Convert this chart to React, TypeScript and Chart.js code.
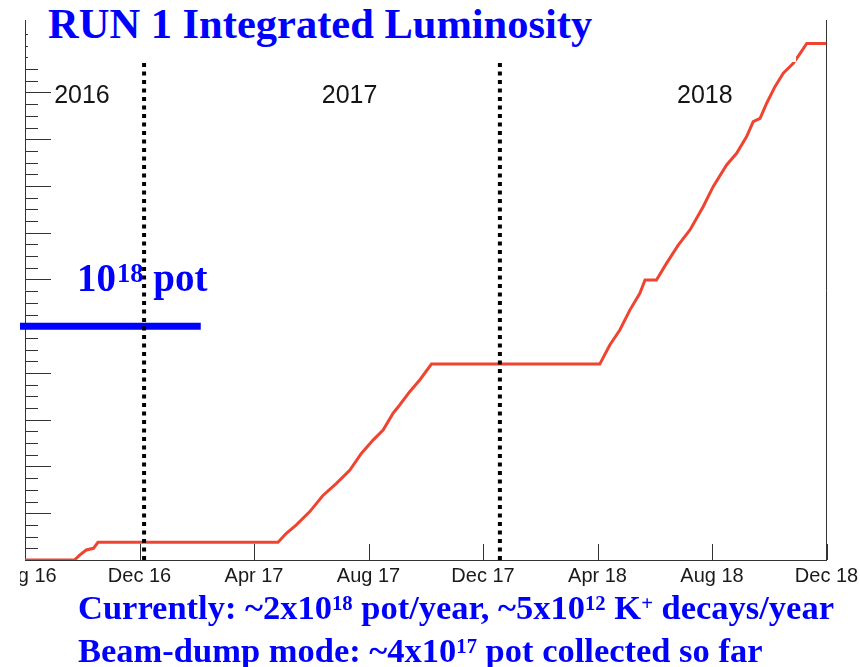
import React, { useEffect, useRef } from "react";
import Chart from "chart.js/auto";

// ---- data (x: months since 1 Aug 2016, y: integrated protons on target in units of 1e17) ----
const monthsSinceAug16 = [0, 1.73, 1.91, 2.14, 2.39, 2.55, 8.84, 9.13, 9.48, 9.95, 10.4, 10.88, 11.35, 11.75, 12.16, 12.51, 12.86, 13.09, 13.44, 13.79, 14.2, 20.08, 20.43, 20.78, 21.13, 21.48, 21.66, 22.06, 22.41, 22.82, 23.23, 23.69, 24.04, 24.51, 24.86, 25.21, 25.44, 25.68, 25.91, 26.2, 26.49, 26.84, 27.08, 27.31, 28];
const integratedPot = [0, 0, 0.21, 0.43, 0.5, 0.76, 0.76, 1.14, 1.5, 2.07, 2.75, 3.28, 3.85, 4.56, 5.13, 5.56, 6.28, 6.63, 7.2, 7.7, 8.38, 8.38, 9.2, 9.84, 10.69, 11.41, 11.98, 11.98, 12.69, 13.47, 14.12, 15.11, 15.97, 16.9, 17.4, 18.11, 18.75, 18.89, 19.54, 20.25, 20.82, 21.25, 21.67, 22.1, 22.1];
const tickLabels = ["Aug 16", "Dec 16", "Apr 17", "Aug 17", "Dec 17", "Apr 18", "Aug 18", "Dec 18"];
const yearBoundaryX = [4.16, 16.59];
const yearLabels = ["2016", "2017", "2018"];
const potLineX = [-0.19, 6.14];
const potLineY = [10, 10];

const X_MIN = 0;
const X_MAX = 28;
const Y_MIN = 0;
const Y_MAX = 23.1;
const YEAR_LABEL_X = [1.99, 11.34, 23.75];
const YEAR_LABEL_Y = 19.53;

const BLUE = "#0000ff";
const RED = "#ef4430";
const AXIS = "#333333";

const insideTicks = {
  id: "insideTicks",
  beforeDatasetsDraw(chart: any) {
    const { ctx, chartArea, scales } = chart;
    const x = scales.x;
    const y = scales.y;
    ctx.save();
    ctx.strokeStyle = AXIS;
    ctx.lineWidth = 1;
    ctx.beginPath();
    for (const t of y.ticks) {
      const v = t.value;
      if (v <= 0 || Math.abs(v * 2 - Math.round(v * 2)) > 1e-6) continue;
      const py = Math.round(y.getPixelForValue(v)) + 0.5;
      const major = Math.abs(v / 2 - Math.round(v / 2)) < 1e-6;
      ctx.moveTo(chartArea.left, py);
      ctx.lineTo(chartArea.left + (major ? 26 : 13), py);
    }
    for (const t of x.ticks) {
      const px = Math.round(x.getPixelForValue(t.value)) + 0.5;
      ctx.moveTo(px, chartArea.bottom);
      ctx.lineTo(px, chartArea.bottom - 16);
    }
    ctx.stroke();
    ctx.fillStyle = "#151515";
    ctx.font = '25px "Liberation Sans", Arial, sans-serif';
    ctx.textAlign = "center";
    ctx.textBaseline = "alphabetic";
    yearLabels.forEach((lab, i) => {
      ctx.fillText(lab, x.getPixelForValue(YEAR_LABEL_X[i]), y.getPixelForValue(YEAR_LABEL_Y));
    });
    ctx.restore();
  },
};

export default function App() {
  const ref = useRef<HTMLCanvasElement>(null);
  useEffect(() => {
    if (!ref.current) return;
    const curve = monthsSinceAug16.map((m, i) => ({ x: m, y: integratedPot[i] }));
    const boundaries = yearBoundaryX.map((bx) => ({
      data: [
        { x: bx, y: Y_MIN },
        { x: bx, y: Y_MAX },
      ],
      borderColor: "#000",
      borderWidth: 4,
      borderDash: [4, 4.5],
      borderCapStyle: "butt",
      pointRadius: 0,
      fill: false,
    }));
    const chart = new Chart(ref.current, {
      type: "line",
      data: {
        datasets: [
          ...boundaries,
          {
            data: curve,
            borderColor: RED,
            borderWidth: 3,
            pointRadius: 0,
            tension: 0,
            fill: false,
          },
          {
            data: potLineX.map((px, i) => ({ x: px, y: potLineY[i] })),
            borderColor: BLUE,
            borderWidth: 7,
            borderCapStyle: "butt",
            pointRadius: 0,
            fill: false,
            clip: false,
          },
        ] as any,
      },
      options: {
        animation: false,
        responsive: false,
        events: [],
        layout: { padding: { left: 85, right: 53.5, top: 20, bottom: 0 } },
        plugins: {
          legend: { display: false },
          tooltip: { enabled: false },
          title: { display: false },
        },
        scales: {
          x: {
            type: "linear",
            min: X_MIN,
            max: X_MAX,
            grid: { display: false, drawTicks: false },
            border: { display: true, color: AXIS, width: 1 },
            ticks: {
              stepSize: 4,
              autoSkip: false,
              maxRotation: 0,
              minRotation: 0,
              padding: 4,
              color: "#1a1a1a",
              font: { family: '"Liberation Sans", Arial, sans-serif', size: 20 },
              callback: (v: any) => tickLabels[Math.round(Number(v) / 4)] ?? "",
            },
            afterFit: (s: any) => {
              s.height = 107;
            },
          },
          y: {
            type: "linear",
            min: Y_MIN,
            max: Y_MAX,
            grid: { display: false, drawTicks: false },
            border: { display: true, color: AXIS, width: 1 },
            ticks: { display: false, stepSize: 0.5, autoSkip: false },
            afterFit: (s: any) => {
              s.width = 0;
            },
          },
          y2: {
            type: "linear",
            position: "right",
            min: Y_MIN,
            max: Y_MAX,
            grid: { display: false, drawTicks: false },
            border: { display: true, color: AXIS, width: 1 },
            ticks: { display: false },
            afterFit: (s: any) => {
              s.width = 0;
            },
          },
        },
      } as any,
      plugins: [insideTicks],
    });
    return () => chart.destroy();
  }, []);

  const serif = '"Liberation Serif", "Times New Roman", serif';
  const sup = (t: string, size = "0.6em", raise = "-0.45em") => (
    <span style={{ fontSize: size, position: "relative", top: raise }}>{t}</span>
  );
  return (
    <div
      style={{
        position: "absolute",
        left: 0,
        top: 0,
        width: 860,
        height: 667,
        overflow: "hidden",
        background: "#fff",
      }}
    >
      <canvas
        ref={ref}
        width={940}
        height={667}
        style={{ position: "absolute", left: -60, top: 0, width: 940, height: 667 }}
      />
      <div style={{ position: "absolute", left: 0, top: 0, width: 20, height: 667, background: "#fff" }} />
      <div style={{ position: "absolute", left: 28, top: 0, width: 768, height: 62, background: "#fff" }}>
        <div
          style={{
            position: "absolute",
            left: 20,
            top: 1,
            fontFamily: serif,
            fontWeight: "bold",
            fontSize: 42.5,
            lineHeight: "46.5px",
            color: BLUE,
            whiteSpace: "nowrap",
          }}
        >
          RUN 1 Integrated Luminosity
        </div>
      </div>
      <div
        style={{
          position: "absolute",
          left: 77,
          top: 257,
          fontFamily: serif,
          fontWeight: "bold",
          fontSize: 39,
          lineHeight: "42px",
          color: BLUE,
          whiteSpace: "nowrap",
        }}
      >
        10<span style={{ marginLeft: 1 }}>{sup("18", "0.68em", "-0.33em")}</span> pot
      </div>
      <div
        style={{
          position: "absolute",
          left: 78,
          top: 588,
          fontFamily: serif,
          fontWeight: "bold",
          fontSize: 34.5,
          lineHeight: "38px",
          color: BLUE,
          whiteSpace: "nowrap",
        }}
      >
        <div>
          Currently: ~2x10{sup("18")} pot/year, ~5x10{sup("12")} K{sup("+")} decays/year
        </div>
        <div>Beam-dump mode: ~4x10{sup("17")} pot collected so far</div>
      </div>
    </div>
  );
}
